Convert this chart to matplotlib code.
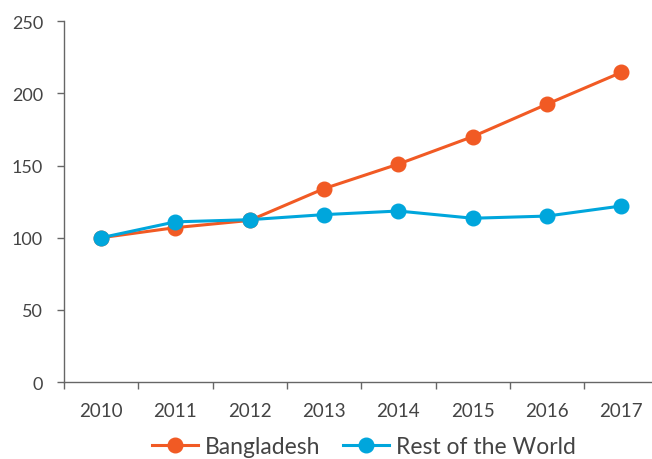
import matplotlib.pyplot as plt
import numpy as np

years = ['2010', '2011', '2012', '2013', '2014', '2015', '2016', '2017']
bangladesh = [100, 107, 112, 134, 151, 170, 192.5, 214.5]
rest_of_world = [100, 111, 112.5, 116, 118.5, 113.5, 115, 122]

plt.rcParams['font.family'] = ['Lato', 'DejaVu Sans']

fig = plt.figure(figsize=(6.52, 4.6), dpi=100)
ax = fig.add_axes([0.098, 0.167, 0.912, 0.785])

x = np.arange(len(years))
ax.plot(x, bangladesh, color='#F15A24', lw=2.2, marker='o', ms=10.5,
        label='Bangladesh', zorder=3)
ax.plot(x, rest_of_world, color='#00A6DC', lw=2.2, marker='o', ms=10.5,
        label='Rest of the World', zorder=4)

ax.set_ylim(0, 250)
ax.set_xlim(-0.5, 7.5)
ax.set_yticks(range(0, 251, 50))

# category axis: ticks between years, labels at centres
ax.set_xticks(x - 0.5)
ax.set_xticklabels([])
ax.set_xticks(x, minor=True)
ax.set_xticklabels(years, minor=True)
ax.tick_params(axis='x', which='major', length=5, width=1, color='#666666', direction='out')
ax.tick_params(axis='x', which='minor', length=0, pad=14, labelsize=13.5, labelcolor='#444444')
ax.tick_params(axis='y', length=5, width=1, color='#666666', pad=10,
               labelsize=13, labelcolor='#444444')

for side in ['top', 'right']:
    ax.spines[side].set_visible(False)
for side in ['left', 'bottom']:
    ax.spines[side].set_color('#666666')
    ax.spines[side].set_linewidth(1)

leg = ax.legend(loc='center', bbox_to_anchor=(0.505, -0.177), ncol=2,
                frameon=False, fontsize=16.5, handlelength=2.0, columnspacing=1.0,
                handletextpad=0.3, borderpad=0)
for t in leg.get_texts():
    t.set_color('#444444')

fig.savefig('out.png', dpi=100)
